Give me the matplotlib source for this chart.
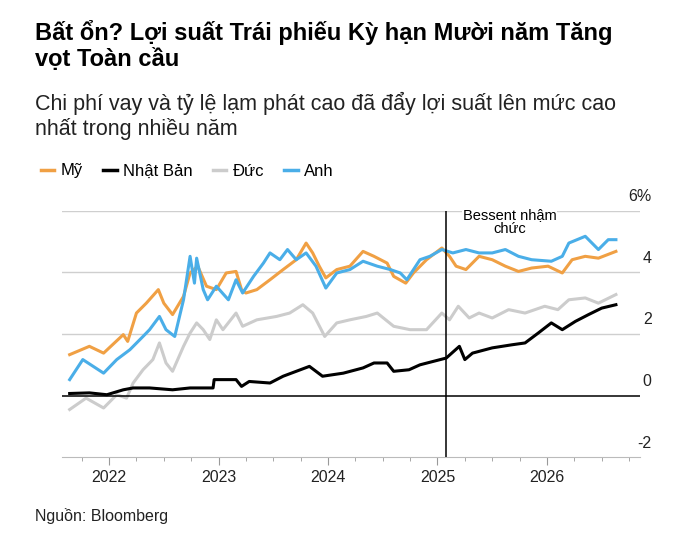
import matplotlib.pyplot as plt
from matplotlib.lines import Line2D
import numpy as np

plt.rcParams['font.family'] = ['Liberation Sans', 'DejaVu Sans']

# giá trị (năm thập phân, %)
us_t = [2021.64, 2021.82, 2021.95, 2022.13, 2022.17, 2022.25, 2022.34, 2022.45, 2022.5, 2022.58,
        2022.68, 2022.74, 2022.81, 2022.89, 2022.98, 2023.07, 2023.16, 2023.21, 2023.25, 2023.35,
        2023.47, 2023.59, 2023.71, 2023.8, 2023.86, 2023.92, 2023.98, 2024.08, 2024.2, 2024.32,
        2024.42, 2024.54, 2024.6, 2024.71, 2024.78, 2024.9, 2025.04, 2025.11, 2025.17, 2025.26,
        2025.38, 2025.5, 2025.62, 2025.74, 2025.86, 2026.01, 2026.14, 2026.23, 2026.35, 2026.47, 2026.63]
us_v = [1.33, 1.6, 1.38, 1.98, 1.76, 2.68, 3.0, 3.44, 3.0, 2.63,
        3.22, 3.98, 4.2, 3.55, 3.44, 3.98, 4.03, 3.44, 3.33, 3.44,
        3.76, 4.09, 4.41, 4.95, 4.63, 4.2, 3.82, 4.09, 4.2, 4.68,
        4.52, 4.3, 3.87, 3.65, 3.98, 4.41, 4.79, 4.52, 4.2, 4.09,
        4.52, 4.41, 4.2, 4.03, 4.14, 4.2, 3.98, 4.41, 4.52, 4.46, 4.68]

uk_t = [2021.64, 2021.76, 2021.95, 2022.07, 2022.19, 2022.31, 2022.37, 2022.46, 2022.52, 2022.6,
        2022.68, 2022.74, 2022.78, 2022.8, 2022.86, 2022.9, 2022.98, 2023.09, 2023.16, 2023.22,
        2023.32, 2023.41, 2023.47, 2023.56, 2023.63, 2023.71, 2023.8, 2023.89, 2023.98, 2024.08,
        2024.2, 2024.32, 2024.45, 2024.57, 2024.66, 2024.72, 2024.84, 2024.93, 2025.04, 2025.14,
        2025.26, 2025.38, 2025.5, 2025.62, 2025.74, 2025.86, 2026.04, 2026.14, 2026.2, 2026.35,
        2026.47, 2026.56, 2026.63]
uk_v = [0.52, 1.17, 0.73, 1.17, 1.49, 1.92, 2.14, 2.57, 2.14, 1.92,
        3.11, 4.52, 3.65, 4.46, 3.44, 3.11, 3.55, 3.11, 3.76, 3.33,
        3.87, 4.3, 4.63, 4.41, 4.74, 4.41, 4.63, 4.2, 3.49, 3.98,
        4.09, 4.36, 4.2, 4.09, 3.98, 3.76, 4.41, 4.52, 4.74, 4.63,
        4.74, 4.63, 4.63, 4.74, 4.52, 4.41, 4.36, 4.52, 4.95, 5.17,
        4.74, 5.06, 5.06]

de_t = [2021.64, 2021.79, 2021.95, 2022.07, 2022.16, 2022.22, 2022.31, 2022.4, 2022.46, 2022.52,
        2022.58, 2022.68, 2022.74, 2022.8, 2022.86, 2022.92, 2022.98, 2023.04, 2023.16, 2023.22,
        2023.35, 2023.53, 2023.65, 2023.77, 2023.86, 2023.97, 2024.08, 2024.2, 2024.35, 2024.45,
        2024.6, 2024.75, 2024.9, 2025.04, 2025.11, 2025.19, 2025.29, 2025.38, 2025.5, 2025.65,
        2025.8, 2025.98, 2026.1, 2026.2, 2026.35, 2026.47, 2026.63]
de_v = [-0.45, -0.08, -0.4, 0.03, -0.08, 0.41, 0.84, 1.17, 1.71, 1.06,
        0.79, 1.6, 2.03, 2.36, 2.14, 1.82, 2.46, 2.14, 2.68, 2.25,
        2.46, 2.57, 2.68, 2.95, 2.68, 1.92, 2.36, 2.46, 2.57, 2.68,
        2.25, 2.14, 2.14, 2.68, 2.46, 2.9, 2.52, 2.68, 2.52, 2.79,
        2.68, 2.9, 2.79, 3.11, 3.17, 3.0, 3.28]

jp_t = [2021.64, 2021.82, 2021.98, 2022.13, 2022.22, 2022.37, 2022.58, 2022.74, 2022.95, 2022.96,
        2023.16, 2023.21, 2023.28, 2023.47, 2023.59, 2023.71, 2023.83, 2023.95, 2024.14, 2024.32,
        2024.42, 2024.54, 2024.6, 2024.74, 2024.84, 2024.96, 2025.08, 2025.2, 2025.25, 2025.32,
        2025.5, 2025.68, 2025.8, 2025.92, 2026.04, 2026.14, 2026.26, 2026.38, 2026.5, 2026.63]
jp_v = [0.07, 0.09, 0.03, 0.19, 0.25, 0.25, 0.19, 0.25, 0.25, 0.52,
        0.52, 0.3, 0.46, 0.41, 0.63, 0.79, 0.95, 0.63, 0.73, 0.9,
        1.06, 1.06, 0.79, 0.84, 1.0, 1.11, 1.22, 1.6, 1.17, 1.38,
        1.55, 1.65, 1.71, 2.03, 2.36, 2.14, 2.41, 2.63, 2.84, 2.95]

y_ticks = [6, 4, 2, 0, -2]
y_labels = ['6%', '4', '2', '0', '-2']
years = [2022, 2023, 2024, 2025, 2026]
bessent = 2025.08

c_us, c_jp, c_de, c_uk = '#f0a044', '#000000', '#cccccc', '#4aaee8'

fig = plt.figure(figsize=(7, 5.41), dpi=100)
ax = fig.add_axes([62 / 700, 1 - 457.3 / 541, 578 / 700, 246.6 / 541])
ax.set_xlim(2021.57, 2026.85)
ax.set_ylim(-2, 6)

for y, lab in zip(y_ticks, y_labels):
    if y == 0:
        ax.axhline(y, color='black', lw=1.1, zorder=3)
    elif y != -2:
        ax.axhline(y, color='#cfcfcf', lw=1, zorder=0)
    ax.text(1.02, y + 0.22, lab, transform=ax.get_yaxis_transform(),
            ha='right', va='bottom', fontsize=11.5, color='#222222')

ax.plot(de_t, de_v, color=c_de, lw=2.2, zorder=2)
ax.plot(jp_t, jp_v, color=c_jp, lw=2.2, zorder=4)
ax.plot(us_t, us_v, color=c_us, lw=2.2, zorder=2)
ax.plot(uk_t, uk_v, color=c_uk, lw=2.2, zorder=2)

ax.plot([bessent, bessent], [-2, 6], color='black', lw=1.1, zorder=5)
ax.text(2025.66, 6.1, 'Bessent nhậm\nchức', ha='center', va='top', fontsize=10.5,
        linespacing=1.0, bbox=dict(facecolor='white', edgecolor='none', pad=0.5), zorder=6)

for s in ['top', 'left', 'right']:
    ax.spines[s].set_visible(False)
ax.spines['bottom'].set_color('#bbbbbb')
ax.set_yticks([])
ax.set_xticks(years)
ax.set_xticklabels([str(y) for y in years], fontsize=11.5, color='#222222')
ax.set_xticks([y + q for y in range(2021, 2027) for q in (0.25, 0.5, 0.75) if 2021.57 < y + q < 2026.85], minor=True)
ax.tick_params(axis='x', which='major', length=6, color='#999999', pad=3)
ax.tick_params(axis='x', which='minor', length=3, color='#999999')

fig.text(35 / 700, 1 - 20 / 541, 'Bất ổn? Lợi suất Trái phiếu Kỳ hạn Mười năm Tăng\nvọt Toàn cầu',
         fontsize=17, fontweight='bold', va='top', linespacing=1.15)
fig.text(35 / 700, 1 - 92 / 541, 'Chi phí vay và tỷ lệ lạm phát cao đã đẩy lợi suất lên mức cao\nnhất trong nhiều năm',
         fontsize=15.5, va='top', linespacing=1.15, color='#222222')
fig.text(35 / 700, 1 - 516 / 541, 'Nguồn: Bloomberg', fontsize=11.5, va='center', color='#222222')

handles = [Line2D([], [], color=c, lw=2.5) for c in (c_us, c_jp, c_de, c_uk)]
fig.legend(handles, ['Mỹ', 'Nhật Bản', 'Đức', 'Anh'], loc='center left',
           bbox_to_anchor=(26 / 700, 1 - 171 / 541), ncol=4, frameon=False, fontsize=12,
           handlelength=0.8, handletextpad=0.4, columnspacing=1.2)

fig.savefig('out.png', dpi=100)
